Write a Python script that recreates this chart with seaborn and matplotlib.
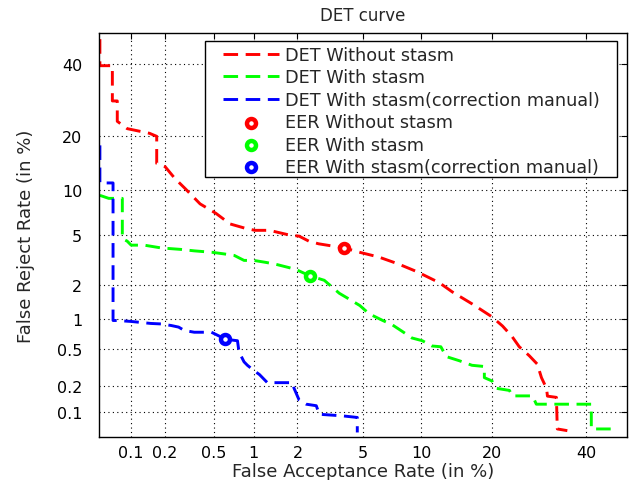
import math
import numpy as np
import matplotlib
matplotlib.use("Agg")
import matplotlib.pyplot as plt
import matplotlib.ticker as mticker
from matplotlib.patches import Rectangle
import seaborn as sns

# values, in %
red_far = [0.051, 0.051, 0.067, 0.067, 0.0745, 0.0745, 0.092, 0.146, 0.169, 0.169,
           0.2, 0.242, 0.293, 0.39, 0.52, 0.667, 0.86, 1.02, 1.29, 1.76, 2.05, 2.37,
           2.73, 3.9, 4.8, 6.1, 7.7, 9.5, 12.1, 13.8, 16.7, 20.0, 21.9, 23.7, 25.1,
           27.1, 28.8, 29.7, 30.8, 31.0, 33.0, 33.2, 35.5]
red_frr = [48, 39.5, 39.5, 29, 29, 23.6, 21.8, 20.7, 20.0, 14.4,
           13.8, 11.8, 10.3, 8.2, 7.1, 6.0, 5.6, 5.4, 5.4, 5.0, 4.9, 4.5,
           4.3, 4.0, 3.7, 3.4, 3.0, 2.6, 2.1, 1.75, 1.37, 1.04, 0.85, 0.67, 0.53,
           0.43, 0.35, 0.25, 0.19, 0.155, 0.15, 0.063, 0.06]

green_far = [0.051, 0.062, 0.083, 0.083, 0.092, 0.1, 0.131, 0.185, 0.27, 0.35, 0.49,
             0.6, 0.72, 0.85, 1.0, 1.19, 1.4, 1.76, 1.96, 2.4, 2.96, 3.65, 4.2, 4.8,
             5.4, 6.4, 7.2, 8.1, 9.0, 10.1, 11.2, 12.3, 13.0, 14.8, 16.7, 18.7, 18.7,
             20.0, 20.8, 23.2, 23.7, 27.8, 28.6, 41.2, 41.2, 47.6]
green_frr = [9.3, 8.9, 8.9, 4.7, 4.5, 4.2, 4.2, 4.0, 3.9, 3.8, 3.7,
             3.6, 3.5, 3.2, 3.2, 3.1, 3.0, 2.8, 2.7, 2.4, 2.2, 1.7, 1.5, 1.32,
             1.11, 0.96, 0.87, 0.75, 0.65, 0.61, 0.54, 0.53, 0.42, 0.38, 0.34, 0.33, 0.25,
             0.23, 0.19, 0.18, 0.156, 0.156, 0.125, 0.125, 0.063, 0.063]

blue_far = [0.051, 0.051, 0.068, 0.068, 0.074, 0.1, 0.15, 0.185, 0.225, 0.26, 0.29,
            0.35, 0.48, 0.62, 0.76, 0.78, 0.85, 0.9, 1.0, 1.1, 1.25, 1.44, 1.85, 1.9,
            2.05, 2.28, 2.64, 2.76, 3.8, 4.64, 4.64]
blue_frr = [18, 11.1, 11.1, 0.96, 0.96, 0.94, 0.9, 0.89, 0.86, 0.83, 0.77,
            0.74, 0.74, 0.63, 0.61, 0.47, 0.37, 0.34, 0.3, 0.27, 0.22, 0.22, 0.22, 0.19,
            0.14, 0.125, 0.12, 0.095, 0.091, 0.087, 0.057]

eer_far = [3.9, 2.4, 0.61]
eer_frr = [4.0, 2.4, 0.63]

line_labels = ["DET Without stasm", "DET With stasm", "DET With stasm(correction manual)"]
eer_labels = ["EER Without stasm", "EER With stasm", "EER With stasm(correction manual)"]
colors = ["#ff0000", "#00ff00", "#0000ff"]
ticks = [0.1, 0.2, 0.5, 1, 2, 5, 10, 20, 40]


# normal deviate scale (no scipy here)
A = [-3.969683028665376e+01, 2.209460984245205e+02, -2.759285104469687e+02,
     1.383577518672690e+02, -3.066479806614716e+01, 2.506628277459239e+00]
B = [-5.447609879822406e+01, 1.615858368580409e+02, -1.556989798598866e+02,
     6.680131188771972e+01, -1.328068155288572e+01]
C = [-7.784894002430293e-03, -3.223964580411365e-01, -2.400758277161838e+00,
     -2.549732539343734e+00, 4.374664141464968e+00, 2.938163982698783e+00]
D = [7.784695709041462e-03, 3.224671290700398e-01, 2.445134137142996e+00,
     3.754408661907416e+00]


def ppf1(p):
    if p < 0.02425:
        q = math.sqrt(-2 * math.log(p))
        return (((((C[0]*q+C[1])*q+C[2])*q+C[3])*q+C[4])*q+C[5]) / \
               ((((D[0]*q+D[1])*q+D[2])*q+D[3])*q+1)
    if p > 1 - 0.02425:
        return -ppf1(1 - p)
    q = p - 0.5
    r = q * q
    return (((((A[0]*r+A[1])*r+A[2])*r+A[3])*r+A[4])*r+A[5])*q / \
           (((((B[0]*r+B[1])*r+B[2])*r+B[3])*r+B[4])*r+1)


_ppf = np.vectorize(ppf1, otypes=[float])
_erf = np.vectorize(math.erf, otypes=[float])


def fwd(v):
    v = np.clip(np.asarray(v, dtype=float) / 100.0, 1e-9, 1 - 1e-9)
    return _ppf(v)


def inv(z):
    z = np.asarray(z, dtype=float)
    return 100.0 * 0.5 * (1 + _erf(z / math.sqrt(2)))


sns.set_theme(style="white")
plt.rcParams["font.family"] = ["DejaVu Sans"]

fig = plt.figure(figsize=(6.31, 4.81), dpi=100)
ax = fig.add_axes([99 / 631, 43 / 481, 528 / 631, 404 / 481])
ax.set_xscale("function", functions=(fwd, inv))
ax.set_yscale("function", functions=(fwd, inv))

dash = (0, (5, 2.6))
for far, frr, col, lab in zip([red_far, green_far, blue_far],
                              [red_frr, green_frr, blue_frr], colors, line_labels):
    sns.lineplot(x=far, y=frr, sort=False, estimator=None, color=col, lw=2.1,
                 linestyle=dash, label=lab, ax=ax)

for i in range(3):
    sns.scatterplot(x=[eer_far[i]], y=[eer_frr[i]], marker="o", s=42, color="white",
                    edgecolor=colors[i], linewidth=3.2, label=eer_labels[i], ax=ax,
                    zorder=5)

ax.set_xlim(0.05, 50)
ax.set_ylim(0.05, 50)
for axis in (ax.xaxis, ax.yaxis):
    axis.set_major_locator(mticker.FixedLocator(ticks))
    axis.set_major_formatter(mticker.FixedFormatter([f"{t:g}" for t in ticks]))
    axis.set_minor_locator(mticker.NullLocator())

ax.grid(True, color="black", linestyle=(0, (1, 3)), linewidth=0.8)
ax.tick_params(direction="in", length=4, width=0.8, top=True, right=True,
               labelsize=11.5, colors="black")
ax.tick_params(axis="x", pad=6)
ax.tick_params(axis="y", pad=12)
for s in ax.spines.values():
    s.set_color("black")
    s.set_linewidth(1.0)

ax.set_title("DET curve", fontsize=12, pad=9)
ax.set_xlabel("False Acceptance Rate (in %)", fontsize=13, labelpad=1)
ax.set_ylabel("False Reject Rate (in %)", fontsize=13, labelpad=16)

# legend box: white frame drawn separately, wider side margins like the original
ax.add_patch(Rectangle((0.2008, 0.6436), 0.7803, 0.3366, transform=ax.transAxes,
                       facecolor="white", edgecolor="black", linewidth=1.0, zorder=6))
leg = ax.legend(loc="upper left", bbox_to_anchor=(0.2348, 0.968), borderaxespad=0,
                fontsize=12.7, frameon=False, handlelength=3.2, handletextpad=0.34,
                labelspacing=0.25, borderpad=0)
leg.set_zorder(7)

fig.savefig("out.png", dpi=100)
